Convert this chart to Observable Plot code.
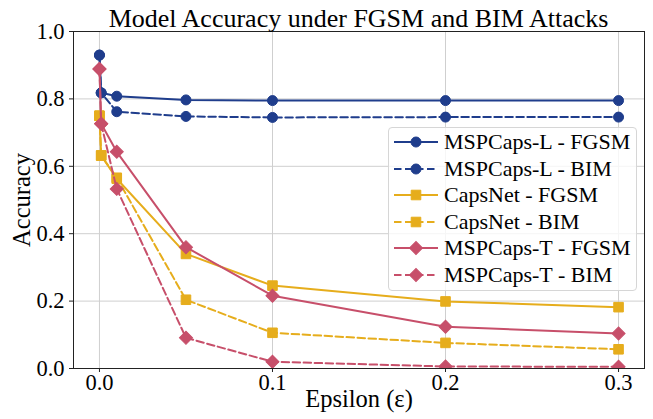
<!DOCTYPE html>
<html>
<head>
<meta charset="utf-8">
<script src="https://cdn.jsdelivr.net/npm/d3@7"></script>
<script src="https://cdn.jsdelivr.net/npm/@observablehq/plot@0.6"></script>
<style>
  body { margin: 0; background: #fff; }
  #wrap { position: relative; width: 653px; height: 419px; font-family: "Liberation Serif", "Times New Roman", serif; color: #000; }
  #wrap, #wrap * { font-family: "Liberation Serif", "Times New Roman", serif !important; }
  #title { position: absolute; top: 6px; left: 73px; width: 571px; text-align: center; font-size: 26px; line-height: 25px; white-space: nowrap; }
  #legend { position: absolute; left: 388px; top: 127px; box-sizing: border-box; padding: 1px 5px 2px 4px;
            background: rgba(255,255,255,0.8); border: 1px solid #d6d6d6; border-radius: 4px; }
  .row { display: flex; align-items: center; height: 26.5px; font-size: 22px; white-space: nowrap; }
  .row svg { margin-right: 5px; flex: none; }
</style>
</head>
<body>
<div id="wrap">
  <div id="chart"></div>
  <div id="title">Model Accuracy under FGSM and BIM Attacks</div>
  <div id="legend"></div>
</div>
<script>
// ---- data ----
const epsilons = [0, 0.001, 0.01, 0.05, 0.1, 0.2, 0.3];
const mspcapsL_fgsm = [0.930, 0.818, 0.808, 0.797, 0.795, 0.795, 0.795];
const mspcapsL_bim  = [0.930, 0.818, 0.762, 0.748, 0.745, 0.746, 0.746];
const capsnet_fgsm  = [0.750, 0.632, 0.563, 0.340, 0.246, 0.199, 0.182];
const capsnet_bim   = [0.750, 0.632, 0.566, 0.204, 0.106, 0.076, 0.057];
const mspcapsT_fgsm = [0.889, 0.726, 0.643, 0.360, 0.216, 0.124, 0.104];
const mspcapsT_bim  = [0.889, 0.726, 0.533, 0.091, 0.020, 0.006, 0.005];
const seriesNames = ["MSPCaps-L - FGSM", "MSPCaps-L - BIM", "CapsNet - FGSM", "CapsNet - BIM", "MSPCaps-T - FGSM", "MSPCaps-T - BIM"];
const xTicks = [0, 0.1, 0.2, 0.3];
const yTicks = [0, 0.2, 0.4, 0.6, 0.8, 1.0];
const xLabel = "Epsilon (ε)";
const yLabel = "Accuracy";

// ---- styles ----
const BLUE = "#1f3d8c", YELLOW = "#e6ad1c", RED = "#c74f6a";
const values = [mspcapsL_fgsm, mspcapsL_bim, capsnet_fgsm, capsnet_bim, mspcapsT_fgsm, mspcapsT_bim];
const styles = [
  {color: BLUE, dash: null, symbol: "circle", r: 5, rotate: 0},
  {color: BLUE, dash: "7.5,3.5", symbol: "circle", r: 5, rotate: 0},
  {color: YELLOW, dash: null, symbol: "square", r: 5.4, rotate: 0},
  {color: YELLOW, dash: "7.5,3.5", symbol: "square", r: 5.4, rotate: 0},
  {color: RED, dash: null, symbol: "square", r: 5.2, rotate: 45},
  {color: RED, dash: "7.5,3.5", symbol: "square", r: 5.2, rotate: 45}
];
const FONT = "'Liberation Serif', 'Times New Roman', serif";

const marks = [
  Plot.gridX(xTicks, {stroke: "#cfcfcf", strokeOpacity: 1, strokeWidth: 1}),
  Plot.gridY(yTicks, {stroke: "#cfcfcf", strokeOpacity: 1, strokeWidth: 1}),
];
seriesNames.forEach((name, i) => {
  const rows = epsilons.map((e, j) => ({eps: e, acc: values[i][j], series: name}));
  const s = styles[i];
  marks.push(Plot.line(rows, {x: "eps", y: "acc", stroke: s.color, strokeWidth: 2, strokeDasharray: s.dash ?? undefined, clip: true}));
  marks.push(Plot.dot(rows, {x: "eps", y: "acc", symbol: s.symbol, r: s.r, rotate: s.rotate, fill: s.color, stroke: s.color, strokeWidth: 1, clip: true}));
});
marks.push(
  Plot.frame({stroke: "#222", strokeWidth: 1}),
  Plot.axisX(xTicks, {tickFormat: d3.format(".1f"), tickSize: 4, tickPadding: 2, fontSize: 22.5, fontFamily: FONT, stroke: "#222", label: null}),
  Plot.axisY(yTicks, {tickFormat: d3.format(".1f"), tickSize: 4, tickPadding: 5, fontSize: 22.5, fontFamily: FONT, stroke: "#222", label: null}),
  Plot.text([xLabel], {text: d => d, frameAnchor: "bottom", textAnchor: "middle", dy: 38, lineAnchor: "bottom", fontSize: 24.5, fontFamily: FONT}),
  Plot.text([yLabel], {text: d => d, frameAnchor: "left", textAnchor: "middle", dx: -51, rotate: -90, fontSize: 24.5, fontFamily: FONT})
);

const chart = Plot.plot({
  width: 653, height: 419,
  marginLeft: 73, marginRight: 9, marginTop: 31, marginBottom: 51,
  style: {fontFamily: FONT, fontSize: "22px", color: "#000", background: "#fff", overflow: "visible"},
  x: {domain: [-0.015, 0.315]},
  y: {domain: [0, 1]},
  marks
});
document.getElementById("chart").appendChild(chart);

// ---- legend ----
const legend = document.getElementById("legend");
seriesNames.forEach((name, i) => {
  const s = styles[i];
  const row = document.createElement("div");
  row.className = "row";
  const svg = d3.create("svg").attr("width", 46).attr("height", 16);
  svg.append("line").attr("x1", 1).attr("x2", 45).attr("y1", 8).attr("y2", 8)
    .attr("stroke", s.color).attr("stroke-width", 2).attr("stroke-dasharray", s.dash);
  const size = Math.PI * s.r * s.r;
  const sym = s.symbol === "circle" ? d3.symbolCircle : d3.symbolSquare;
  svg.append("path").attr("d", d3.symbol(sym, size)())
    .attr("transform", `translate(23,8) rotate(${s.rotate})`)
    .attr("fill", s.color).attr("stroke", s.color).attr("stroke-width", 1);
  row.appendChild(svg.node());
  const t = document.createElement("span");
  t.textContent = name;
  row.appendChild(t);
  legend.appendChild(row);
});
</script>
</body>
</html>
